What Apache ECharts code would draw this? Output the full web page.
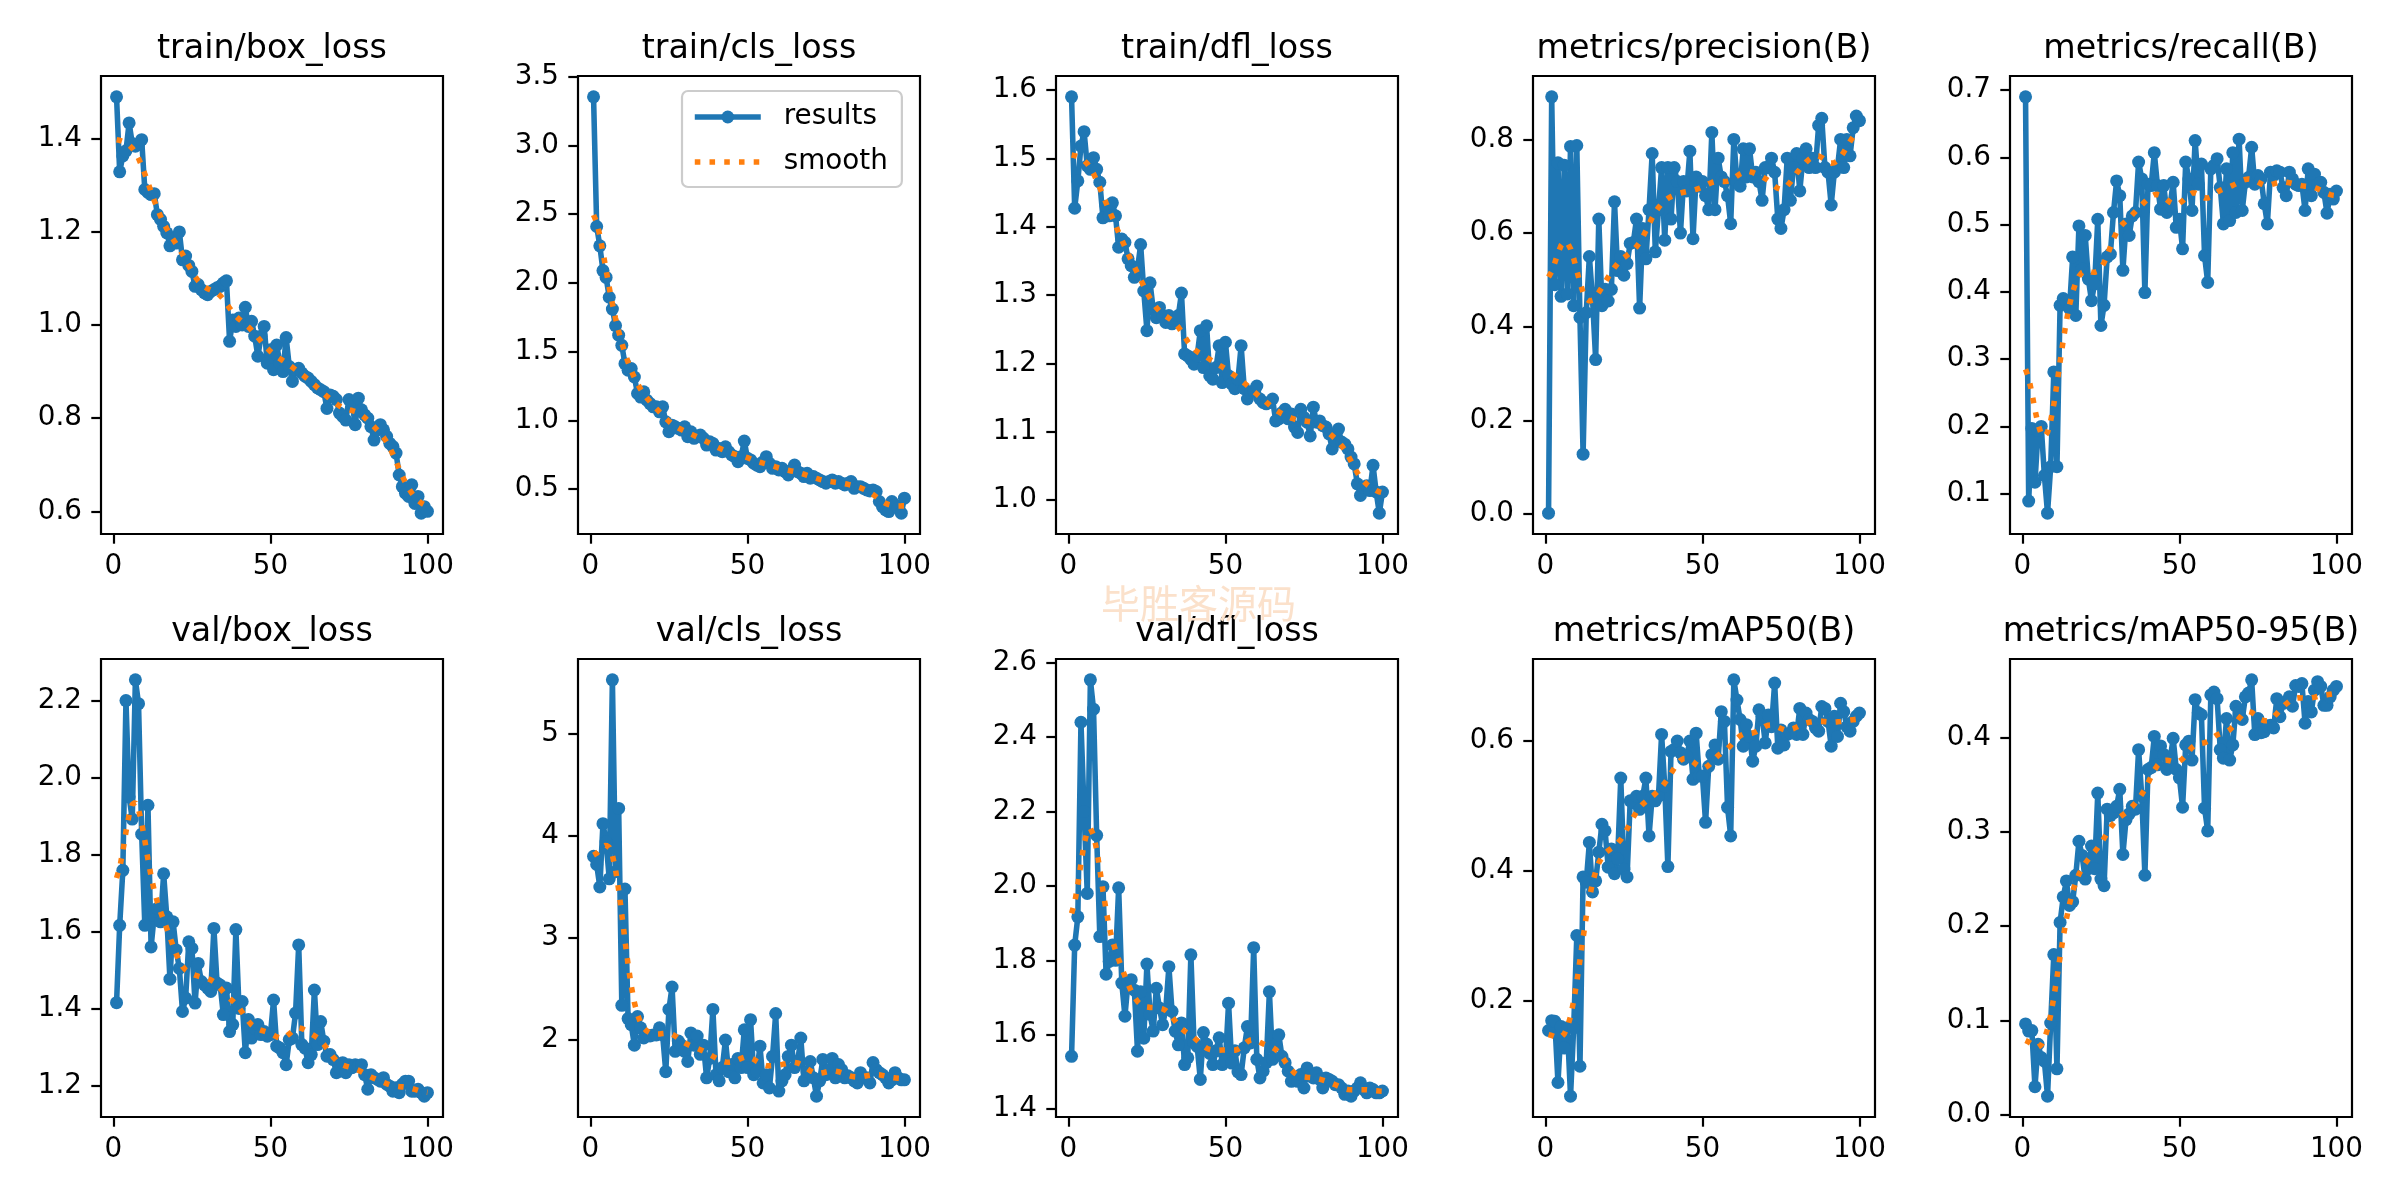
<!DOCTYPE html>
<html>
<head>
<meta charset="utf-8">
<script src="https://cdn.jsdelivr.net/npm/echarts@6/dist/echarts.min.js"></script>
<style>
html,body{margin:0;padding:0;background:#ffffff;}
#chart{width:2400px;height:1200px;}
</style>
</head>
<body>
<div id="chart"></div>
<script>
// ---------------- DATA ----------------
const panelTitles = ['train/box_loss','train/cls_loss','train/dfl_loss','metrics/precision(B)','metrics/recall(B)',
                     'val/box_loss','val/cls_loss','val/dfl_loss','metrics/mAP50(B)','metrics/mAP50-95(B)'];

const xTickLabels = ['0','50','100'];

const trainBoxLoss = [1.49,1.329,1.363,1.374,1.434,1.39,1.384,1.388,1.398,1.291,
1.285,1.28,1.282,1.237,1.227,1.212,1.198,1.17,1.187,1.176,
1.2,1.14,1.148,1.128,1.115,1.083,1.087,1.076,1.069,1.065,
1.072,1.076,1.08,1.083,1.09,1.095,0.965,1.011,0.997,1.015,
1.0,1.038,0.997,1.008,0.976,0.933,0.976,0.997,0.918,0.947,
0.904,0.957,0.918,0.9,0.973,0.911,0.879,0.904,0.907,0.897,
0.89,0.886,0.879,0.872,0.865,0.861,0.857,0.821,0.85,0.847,
0.84,0.811,0.804,0.796,0.84,0.832,0.786,0.843,0.818,0.807,
0.8,0.782,0.753,0.775,0.786,0.775,0.761,0.746,0.739,0.725,
0.678,0.653,0.639,0.632,0.657,0.617,0.632,0.596,0.61,0.6];

const trainClsLoss = [3.353,2.41,2.27,2.09,2.04,1.896,1.81,1.69,1.62,1.546,
1.413,1.365,1.377,1.316,1.196,1.17,1.208,1.147,1.123,1.099,
1.099,1.063,1.099,0.99,0.918,0.966,0.954,0.942,0.93,0.954,
0.882,0.918,0.87,0.882,0.894,0.87,0.821,0.845,0.833,0.785,
0.797,0.773,0.809,0.773,0.749,0.737,0.7,0.737,0.85,0.725,
0.713,0.689,0.676,0.664,0.7,0.737,0.689,0.652,0.664,0.64,
0.652,0.628,0.604,0.64,0.676,0.628,0.616,0.592,0.616,0.58,
0.592,0.58,0.568,0.556,0.544,0.556,0.568,0.544,0.556,0.544,
0.531,0.544,0.556,0.507,0.519,0.519,0.507,0.495,0.488,0.495,
0.483,0.411,0.374,0.35,0.338,0.411,0.386,0.362,0.326,0.435];

const trainDflLoss = [1.59,1.427,1.467,1.518,1.539,1.489,1.484,1.501,1.484,1.465,
1.413,1.43,1.416,1.435,1.416,1.37,1.382,1.377,1.353,1.343,
1.326,1.338,1.374,1.306,1.248,1.318,1.279,1.267,1.282,1.27,
1.26,1.27,1.258,1.26,1.27,1.303,1.214,1.211,1.206,1.199,
1.211,1.248,1.194,1.255,1.182,1.177,1.194,1.226,1.172,1.231,
1.182,1.17,1.163,1.177,1.226,1.163,1.148,1.158,1.16,1.167,
1.148,1.143,1.141,1.143,1.148,1.116,1.119,1.128,1.133,1.119,
1.126,1.107,1.099,1.133,1.121,1.114,1.094,1.136,1.114,1.116,
1.109,1.107,1.097,1.075,1.087,1.104,1.085,1.082,1.075,1.063,
1.053,1.024,1.007,1.019,1.021,1.014,1.051,1.012,0.981,1.012];

const precisionB = [0.002,0.891,0.49,0.75,0.465,0.745,0.47,0.785,0.445,0.787,
0.42,0.128,0.43,0.55,0.46,0.33,0.63,0.445,0.48,0.455,
0.48,0.667,0.52,0.55,0.51,0.535,0.578,0.58,0.63,0.44,
0.61,0.545,0.65,0.77,0.56,0.65,0.74,0.585,0.74,0.63,
0.74,0.71,0.6,0.71,0.69,0.775,0.588,0.72,0.7,0.71,
0.68,0.65,0.815,0.65,0.76,0.72,0.71,0.68,0.62,0.8,
0.71,0.7,0.78,0.72,0.78,0.72,0.73,0.71,0.67,0.74,
0.74,0.76,0.73,0.63,0.61,0.65,0.76,0.67,0.74,0.77,
0.69,0.76,0.78,0.74,0.76,0.74,0.83,0.845,0.74,0.73,
0.66,0.73,0.74,0.8,0.74,0.8,0.765,0.825,0.85,0.84];

const recallB = [0.69,0.089,0.197,0.117,0.194,0.2,0.127,0.071,0.14,0.281,
0.14,0.38,0.39,0.385,0.375,0.452,0.365,0.498,0.434,0.484,
0.419,0.387,0.412,0.508,0.35,0.38,0.452,0.456,0.518,0.565,
0.543,0.432,0.501,0.484,0.513,0.518,0.593,0.568,0.399,0.56,
0.558,0.607,0.558,0.523,0.558,0.518,0.528,0.563,0.496,0.508,
0.464,0.593,0.568,0.521,0.625,0.56,0.59,0.454,0.414,0.583,
0.588,0.598,0.555,0.501,0.583,0.506,0.607,0.518,0.627,0.521,
0.563,0.57,0.615,0.56,0.573,0.568,0.531,0.501,0.578,0.573,
0.58,0.578,0.555,0.543,0.578,0.568,0.56,0.558,0.56,0.521,
0.583,0.543,0.575,0.56,0.563,0.548,0.517,0.545,0.538,0.55];

const valBoxLoss = [1.415,1.616,1.759,2.2,1.95,1.892,2.254,2.192,1.853,1.616,
1.928,1.56,1.642,1.66,1.625,1.75,1.638,1.476,1.625,1.552,
1.504,1.392,1.427,1.573,1.556,1.414,1.517,1.47,1.461,1.453,
1.444,1.608,1.466,1.461,1.384,1.453,1.34,1.358,1.605,1.40,
1.418,1.285,1.371,1.323,1.349,1.358,1.332,1.34,1.328,1.332,
1.422,1.302,1.297,1.285,1.254,1.319,1.323,1.388,1.565,1.306,
1.297,1.259,1.28,1.448,1.306,1.366,1.315,1.276,1.28,1.267,
1.233,1.246,1.259,1.233,1.254,1.246,1.254,1.25,1.254,1.228,
1.19,1.228,1.22,1.216,1.211,1.22,1.203,1.198,1.185,1.194,
1.181,1.203,1.211,1.211,1.185,1.185,1.19,1.181,1.172,1.181];

const valClsLoss = [3.80,3.72,3.50,4.12,3.94,3.58,5.53,3.65,4.27,2.34,
3.48,2.21,2.15,1.95,2.23,2.12,2.02,2.05,2.04,2.05,
2.05,2.12,2.05,1.69,2.3,2.52,1.89,1.99,1.95,1.89,
1.79,2.07,1.95,2.04,1.86,1.95,1.63,1.82,2.30,1.66,
1.6,1.73,2.0,1.69,1.76,1.63,1.82,1.73,2.1,1.73,
2.2,1.66,1.69,1.94,1.58,1.66,1.53,1.84,2.26,1.5,
1.6,1.66,1.84,1.95,1.73,1.79,2.02,1.6,1.69,1.79,
1.63,1.45,1.6,1.81,1.66,1.71,1.82,1.63,1.76,1.71,
1.63,1.65,1.63,1.6,1.58,1.68,1.63,1.63,1.58,1.78,
1.71,1.68,1.66,1.63,1.58,1.61,1.68,1.63,1.61,1.61];

const valDflLoss = [1.542,1.841,1.917,2.44,2.2,1.98,2.554,2.475,2.136,1.864,
1.998,1.763,1.797,1.841,1.8,1.995,1.739,1.65,1.743,1.748,
1.72,1.556,1.716,1.591,1.79,1.655,1.61,1.725,1.672,1.627,
1.668,1.783,1.663,1.61,1.573,1.632,1.52,1.538,1.815,1.578,
1.569,1.48,1.606,1.575,1.55,1.52,1.557,1.592,1.52,1.529,
1.685,1.524,1.557,1.5,1.493,1.565,1.622,1.578,1.834,1.534,
1.484,1.502,1.525,1.716,1.534,1.573,1.6,1.542,1.525,1.502,
1.475,1.484,1.475,1.493,1.457,1.511,1.489,1.484,1.498,1.48,
1.457,1.484,1.48,1.475,1.466,1.466,1.457,1.44,1.449,1.435,
1.449,1.457,1.471,1.453,1.444,1.457,1.453,1.444,1.444,1.449];

const mAP50B = [0.154,0.169,0.168,0.074,0.16,0.127,0.158,0.053,0.158,0.30,
0.099,0.39,0.382,0.443,0.367,0.384,0.428,0.471,0.461,0.405,
0.433,0.395,0.418,0.542,0.402,0.39,0.507,0.504,0.514,0.494,
0.514,0.542,0.453,0.514,0.507,0.514,0.609,0.53,0.406,0.583,
0.586,0.599,0.581,0.571,0.576,0.599,0.54,0.611,0.545,0.545,
0.474,0.56,0.578,0.593,0.571,0.644,0.629,0.497,0.453,0.693,
0.662,0.632,0.591,0.624,0.606,0.568,0.591,0.647,0.637,0.596,
0.639,0.621,0.688,0.588,0.616,0.593,0.609,0.611,0.619,0.609,
0.649,0.609,0.642,0.632,0.629,0.619,0.614,0.652,0.649,0.629,
0.591,0.637,0.606,0.657,0.644,0.621,0.614,0.629,0.637,0.642];

const mAP5095B = [0.0965,0.089,0.0895,0.03,0.075,0.061,0.057,0.02,0.0975,0.17,
0.049,0.204,0.231,0.248,0.222,0.226,0.254,0.29,0.275,0.25,
0.261,0.285,0.261,0.341,0.25,0.243,0.324,0.317,0.32,0.327,
0.345,0.276,0.313,0.319,0.327,0.324,0.387,0.338,0.254,0.366,
0.368,0.401,0.371,0.391,0.382,0.366,0.376,0.399,0.366,0.357,
0.326,0.392,0.396,0.376,0.44,0.426,0.424,0.325,0.301,0.445,
0.448,0.441,0.387,0.378,0.42,0.376,0.392,0.433,0.426,0.419,
0.443,0.447,0.461,0.403,0.42,0.405,0.406,0.412,0.413,0.41,
0.441,0.422,0.436,0.438,0.443,0.433,0.455,0.454,0.457,0.415,
0.438,0.427,0.45,0.459,0.454,0.434,0.434,0.443,0.45,0.454];

const yTickLabels = [
  ['0.6','0.8','1.0','1.2','1.4'],
  ['0.5','1.0','1.5','2.0','2.5','3.0','3.5'],
  ['1.0','1.1','1.2','1.3','1.4','1.5','1.6'],
  ['0.0','0.2','0.4','0.6','0.8'],
  ['0.1','0.2','0.3','0.4','0.5','0.6','0.7'],
  ['1.2','1.4','1.6','1.8','2.0','2.2'],
  ['2','3','4','5'],
  ['1.4','1.6','1.8','2.0','2.2','2.4','2.6'],
  ['0.2','0.4','0.6'],
  ['0.0','0.1','0.2','0.3','0.4']
];

const legendNames = ['results', 'smooth'];

const panelValues = [trainBoxLoss, trainClsLoss, trainDflLoss, precisionB, recallB,
                     valBoxLoss, valClsLoss, valDflLoss, mAP50B, mAP5095B];

const epochs = [];
for (let e = 1; e <= trainBoxLoss.length; e++) epochs.push(e);

// ------------- smoothing as in the source plot (gaussian, sigma=3, reflect) -------------
function gaussianSmooth(y, sigma) {
  const r = Math.round(4 * sigma);
  const w = []; let s = 0;
  for (let k = -r; k <= r; k++) { const v = Math.exp(-0.5 * k * k / (sigma * sigma)); w.push(v); s += v; }
  const n = y.length, out = [];
  for (let i = 0; i < n; i++) {
    let acc = 0;
    for (let k = -r; k <= r; k++) {
      let idx = i + k;
      if (idx < 0) idx = -idx - 1;
      if (idx >= n) idx = 2 * n - idx - 1;
      acc += w[k + r] * y[idx];
    }
    out.push(acc / s);
  }
  return out;
}

// ------------- LAYOUT / STYLE -------------
const FONT = 'DejaVu Sans';
const BLUE = '#1f77b4', ORANGE = '#ff7f0e';
const colLeft = [101, 578, 1056, 1533, 2010];
const rowTop = [76, 659];
const GW = 342, GH = 458;
const LW = 5.56;
const DOTS = [5.56, 9.17];

const grids = [], xAxes = [], yAxes = [], series = [], titles = [];
panelValues.forEach((vals, i) => {
  const col = i % 5, row = Math.floor(i / 5);
  const left = colLeft[col], top = rowTop[row];
  grids.push({left: left, top: top, width: GW, height: GH, show: true,
    borderColor: '#000', borderWidth: 2.2, backgroundColor: 'transparent', containLabel: false});
  const xmin = epochs[0], xmax = epochs[epochs.length - 1];
  const xpad = (xmax - xmin) * 0.05;
  const xt = xTickLabels.map(Number);
  xAxes.push({type: 'value', gridIndex: i, min: xmin - xpad, max: xmax + xpad, position: 'bottom',
    axisLine: {show: false, onZero: false}, splitLine: {show: false},
    axisTick: {show: true, customValues: xt, length: 9.7, lineStyle: {color: '#000', width: 2.2}},
    axisLabel: {show: true, customValues: xt, margin: 19, color: '#000', fontFamily: FONT, fontSize: 27.8,
      formatter: v => String(Math.round(v))}});
  const lo = Math.min(...vals), hi = Math.max(...vals), pad = (hi - lo) * 0.05;
  const labels = yTickLabels[i];
  const yt = labels.map(Number);
  yAxes.push({type: 'value', gridIndex: i, min: lo - pad, max: hi + pad, scale: true, position: 'left',
    axisLine: {show: false, onZero: false}, splitLine: {show: false},
    axisTick: {show: true, customValues: yt, length: 9.7, lineStyle: {color: '#000', width: 2.2}},
    axisLabel: {show: true, customValues: yt, margin: 19, color: '#000', fontFamily: FONT, fontSize: 27.8,
      formatter: v => { let best = labels[0], bd = Infinity; labels.forEach(l => { const d = Math.abs(Number(l) - v); if (d < bd) { bd = d; best = l; } }); return best; }}});
  series.push({type: 'line', name: legendNames[0], xAxisIndex: i, yAxisIndex: i,
    data: epochs.map((e, j) => [e, vals[j]]),
    symbol: 'circle', symbolSize: 13, showSymbol: true, showAllSymbol: true,
    lineStyle: {color: BLUE, width: LW}, itemStyle: {color: BLUE},
    emphasis: {disabled: true}, z: 2, silent: true});
  const sm = gaussianSmooth(vals, 3);
  series.push({type: 'line', name: legendNames[1], xAxisIndex: i, yAxisIndex: i,
    data: epochs.map((e, j) => [e, sm[j]]),
    symbol: 'none', showSymbol: false,
    lineStyle: {color: ORANGE, width: LW, type: DOTS, cap: 'butt'}, itemStyle: {color: ORANGE},
    emphasis: {disabled: true}, z: 3, silent: true});
  titles.push({text: panelTitles[i], left: left + GW / 2, top: top - 43.5, textAlign: 'center', padding: 0,
    textStyle: {fontFamily: FONT, fontSize: 33.3, fontWeight: 'normal', color: '#000'}});
});

const chart = echarts.init(document.getElementById('chart'), null, {renderer: 'canvas', width: 2400, height: 1200});
chart.setOption({
  animation: false,
  backgroundColor: '#ffffff',
  title: titles,
  grid: grids,
  xAxis: xAxes,
  yAxis: yAxes,
  series: series,
  legend: {
    data: [
      {name: legendNames[0], itemStyle: {color: BLUE}, lineStyle: {color: BLUE, width: LW}},
      {name: legendNames[1], itemStyle: {color: ORANGE, opacity: 0}, lineStyle: {color: ORANGE, width: LW, type: DOTS, cap: 'butt'}}
    ],
    orient: 'vertical', left: 682, top: 91,
    padding: [12, 14, 11, 10], itemGap: 17, itemWidth: 66, itemHeight: 16,
    backgroundColor: 'rgba(255,255,255,0.8)', borderColor: '#cccccc', borderWidth: 2.2, borderRadius: 6,
    selectedMode: false,
    textStyle: {fontFamily: FONT, fontSize: 27.8, color: '#000', padding: [0, 0, 0, 18]}
  },
  graphic: [{
    type: 'text', left: 1101, top: 584, silent: true, z: 100,
    style: {text: '毕胜客源码', font: '39px "Noto Sans CJK SC"', fill: '#fbe1cb'}
  }]
});
</script>
</body>
</html>
